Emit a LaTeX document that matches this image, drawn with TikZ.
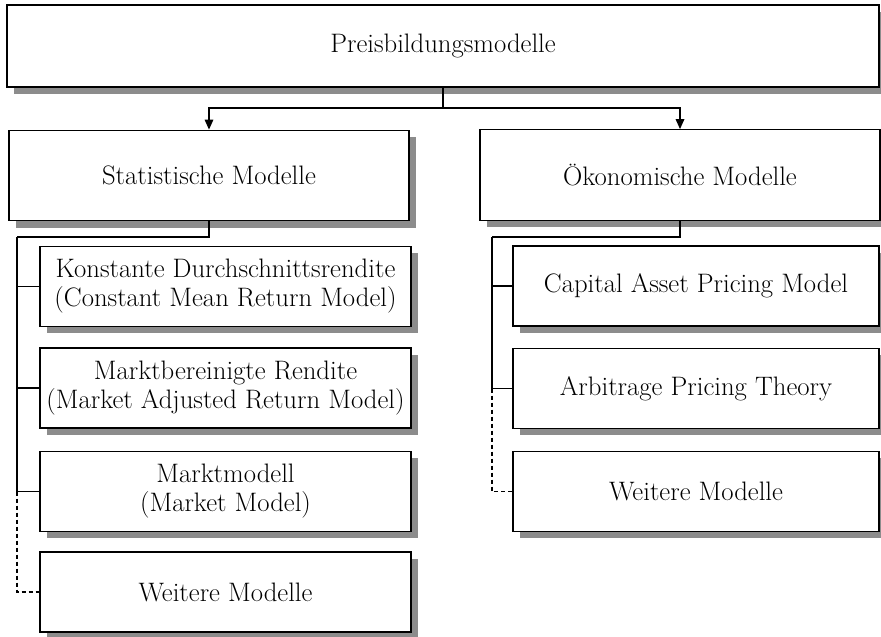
\documentclass[tikz,border=0pt]{standalone}
\usepackage{fontspec}
\usetikzlibrary{calc,positioning,arrows.meta,shadows}

\begin{document}
\begin{tikzpicture}[
    x=0.03cm, y=-0.03cm,
    font=\fontsize{22.8}{24.7}\selectfont,
    box/.style={rectangle, draw=black, line width=1pt, fill=white, inner sep=0pt, align=center, drop shadow={shadow xshift=0.2cm, shadow yshift=-0.2cm, fill=black!45, opacity=1}},
    topbox/.style={box, minimum width=26.16cm, minimum height=2.46cm},
    groupbox/.style={box, minimum width=12cm, minimum height=2.72cm},
    leftbox/.style={box, minimum width=11.13cm, minimum height=2.4cm},
    rightbox/.style={box, minimum width=10.98cm, minimum height=2.4cm},
    link/.style={line width=1pt},
    arrowlink/.style={link, -{Triangle[length=0.3cm,width=0.26cm]}},
    morelink/.style={link, dash pattern=on 0.12cm off 0.09cm}
]
\useasboundingbox (0,0) rectangle (881,636);

\node[topbox] (Preis) at (443,46) {Preisbildungsmodelle};

\node[groupbox] (Statistisch) at (209,175.5) {Statistische Modelle};
\node[groupbox] (Oekonomisch) at (680,175) {Ökonomische Modelle};

\node[leftbox] (Konstant) at (225.5,286.5) {Konstante Durchschnittsrendite\\(Constant Mean Return Model)};
\node[leftbox] (Marktbereinigt) at (225.5,388) {Marktbereinigte Rendite\\(Market Adjusted Return Model)};
\node[leftbox] (Marktmodell) at (225.5,491.5) {Marktmodell\\(Market Model)};
\node[leftbox] (WeitereStat) at (225.5,592) {Weitere Modelle};

\node[rightbox] (CAPM) at (696,286) {Capital Asset Pricing Model};
\node[rightbox] (APT) at (696,388.5) {Arbitrage Pricing Theory};
\node[rightbox] (WeitereOek) at (696,491.5) {Weitere Modelle};

\coordinate (split) at (443,108);
\coordinate (leftbus) at (17,237);
\coordinate (rightbus) at (492,237);

\draw[link] (Preis.south) -- (split);
\draw[arrowlink] (split) -| (Statistisch.north);
\draw[arrowlink] (split) -| (Oekonomisch.north);

\draw[link] (Statistisch.south) |- (leftbus);
\draw[link] (leftbus) |- (Konstant.west);
\draw[link] (leftbus) |- (Marktbereinigt.west);
\draw[link] (leftbus) |- (Marktmodell.west);
\draw[morelink] (Marktmodell.west -| leftbus) |- (WeitereStat.west);

\draw[link] (Oekonomisch.south) |- (rightbus);
\draw[link] (rightbus) |- (CAPM.west);
\draw[link] (rightbus) |- (APT.west);
\draw[morelink] (APT.west -| rightbus) |- (WeitereOek.west);
\end{tikzpicture}
\end{document}
